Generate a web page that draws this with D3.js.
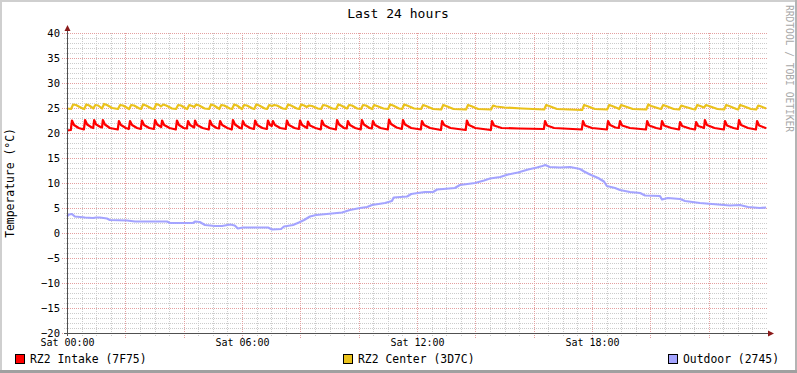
<!DOCTYPE html>
<html><head><meta charset="utf-8">
<script src="https://cdn.jsdelivr.net/npm/d3@7"></script>
<style>html,body{margin:0;padding:0;background:#fff;}svg{display:block;}</style>
</head><body>
<script>
const titleText = "Last 24 hours";
const yTitle = "Temperature (°C)";
const watermark = "RRDTOOL / TOBI OETIKER";
const xLabelHours = [0, 6, 12, 18];
const xLabels = ["Sat 00:00", "Sat 06:00", "Sat 12:00", "Sat 18:00"];
const yLabels = [-20, -15, -10, -5, 0, 5, 10, 15, 20, 25, 30, 35, 40];
const seriesNames = ["RZ2 Intake (7F75)", "RZ2 Center (3D7C)", "Outdoor (2745)"];
const seriesColors = ["#FF0000", "#EAC21C", "#A4A4FF"];

// [hour, °C]
const intake = [
[0,20.5],[0.13,20.6],[0.17,22.5],[0.24,21.6],[0.40,21.0],[0.58,20.7],
[0.62,22.6],[0.69,21.7],[0.85,21.1],[0.90,21.0],
[0.93,22.6],[1.00,21.7],[1.15,21.2],[1.20,21.1],
[1.23,22.6],[1.30,21.7],[1.47,21.0],[1.74,20.7],
[1.78,22.4],[1.85,21.6],[2.02,21.0],[2.12,20.8],
[2.16,22.4],[2.23,21.6],[2.40,21.0],[2.53,20.8],
[2.57,22.5],[2.64,21.6],[2.82,21.0],[2.98,20.8],
[3.02,22.6],[3.09,21.7],[3.20,21.3],[3.23,21.2],
[3.26,22.5],[3.33,21.6],[3.52,21.0],[3.73,20.7],
[3.77,22.5],[3.84,21.6],[4.00,21.0],[4.11,20.9],
[4.15,22.4],[4.22,21.6],[4.33,21.2],[4.36,21.1],
[4.39,22.5],[4.46,21.6],[4.65,21.0],[4.86,20.7],
[4.90,22.5],[4.97,21.6],[5.13,21.0],[5.21,20.9],
[5.25,22.4],[5.32,21.6],[5.50,21.0],[5.65,20.7],
[5.69,22.6],[5.76,21.7],[5.93,21.0],[5.99,20.9],
[6.03,22.4],[6.10,21.6],[6.28,21.0],[6.41,20.8],
[6.45,22.5],[6.52,21.6],[6.70,21.0],[6.85,20.8],
[6.89,22.5],[6.96,21.6],[7.02,21.4],
[7.06,22.4],[7.13,21.6],[7.31,21.0],[7.50,20.8],
[7.54,22.5],[7.61,21.6],[7.80,21.0],[7.95,20.8],
[7.99,22.5],[8.06,21.6],[8.20,21.1],[8.23,21.0],
[8.26,22.3],[8.33,21.5],[8.52,21.0],[8.70,20.7],
[8.74,22.5],[8.81,21.6],[9.00,21.0],[9.22,20.7],
[9.26,22.6],[9.33,21.7],[9.50,21.0],[9.59,20.9],
[9.63,22.4],[9.70,21.6],[9.88,21.0],[10.07,20.7],
[10.11,22.6],[10.18,21.7],[10.36,21.0],[10.45,20.9],
[10.49,22.4],[10.56,21.6],[10.75,21.0],[11.00,20.7],
[11.04,22.7],[11.11,21.8],[11.30,21.1],[11.48,20.8],
[11.52,22.6],[11.59,21.7],[11.80,21.0],[12.13,20.7],
[12.17,22.4],[12.24,21.6],[12.45,21.0],[12.82,20.6],
[12.86,22.4],[12.93,21.6],[13.15,21.0],[13.67,20.6],
[13.71,22.5],[13.78,21.6],[14.00,21.0],[14.53,20.6],
[14.57,22.4],[14.64,21.5],[14.90,21.0],[15.50,20.9],[16.35,20.8],
[16.39,22.4],[16.46,21.5],[16.70,21.0],[17.65,20.7],
[17.69,22.4],[17.76,21.5],[18.00,21.0],[18.51,20.7],
[18.55,22.4],[18.62,21.6],[18.80,21.1],[18.92,21.0],
[18.96,22.4],[19.03,21.5],[19.30,21.0],[19.85,20.7],
[19.89,22.4],[19.96,21.5],[20.20,21.0],[20.36,20.8],
[20.40,22.4],[20.47,21.5],[20.72,21.0],[20.98,20.7],
[21.02,22.2],[21.09,21.4],[21.35,20.9],[21.53,20.7],
[21.57,22.2],[21.64,21.4],[21.80,21.1],[21.84,21.0],
[21.87,22.6],[21.94,21.6],[22.20,21.0],[22.52,20.7],
[22.56,22.4],[22.63,21.5],[22.85,21.0],[23.00,20.8],
[23.04,22.6],[23.11,21.6],[23.35,21.0],[23.62,20.7],
[23.66,22.4],[23.73,21.5],[23.95,21.0],[23.97,20.9]
];

const center = [
[0,24.9],[0.14,24.8],[0.21,25.7],[0.31,25.6],[0.50,25.0],[0.59,24.8],
[0.66,25.7],[0.76,25.5],[0.88,25.0],[0.90,24.9],
[0.97,25.6],[1.07,25.5],[1.18,25.0],[1.20,24.9],
[1.27,25.8],[1.37,25.6],[1.55,25.0],[1.75,24.8],
[1.82,25.6],[1.92,25.5],[2.10,24.9],[2.13,24.8],
[2.20,25.6],[2.30,25.5],[2.48,24.9],[2.54,24.8],
[2.61,25.7],[2.71,25.5],[2.90,24.9],[2.99,24.8],
[3.06,25.8],[3.16,25.6],[3.22,25.3],
[3.30,25.7],[3.40,25.5],[3.60,24.9],[3.74,24.8],
[3.81,25.6],[3.91,25.5],[4.08,24.9],[4.12,24.8],
[4.19,25.6],[4.29,25.4],[4.36,25.2],
[4.43,25.7],[4.53,25.5],[4.72,24.9],[4.87,24.8],
[4.94,25.7],[5.04,25.5],[5.20,24.9],[5.22,24.8],
[5.29,25.6],[5.39,25.5],[5.58,24.9],[5.66,24.8],
[5.73,25.7],[5.83,25.5],[5.97,24.9],[6.00,24.8],
[6.07,25.6],[6.17,25.5],[6.36,24.9],[6.42,24.8],
[6.49,25.7],[6.59,25.5],[6.78,24.9],[6.86,24.8],
[6.93,25.6],[7.03,25.4],
[7.10,25.6],[7.20,25.5],[7.40,24.9],[7.51,24.8],
[7.58,25.7],[7.68,25.5],[7.88,24.9],[7.96,24.8],
[8.03,25.7],[8.13,25.5],[8.22,25.2],
[8.30,25.5],[8.40,25.4],[8.60,24.9],[8.71,24.8],
[8.78,25.6],[8.88,25.5],[9.10,24.9],[9.23,24.8],
[9.30,25.7],[9.40,25.5],[9.56,25.0],[9.60,24.9],
[9.67,25.6],[9.77,25.5],[9.95,24.9],[10.08,24.8],
[10.15,25.6],[10.25,25.5],[10.42,24.9],[10.46,24.8],
[10.53,25.6],[10.63,25.4],[10.85,24.9],[11.01,24.8],
[11.08,25.7],[11.18,25.5],[11.38,24.9],[11.49,24.8],
[11.56,25.7],[11.66,25.5],[11.90,24.9],[12.14,24.8],
[12.21,25.6],[12.31,25.4],[12.55,24.8],[12.83,24.7],
[12.90,25.6],[13.00,25.4],[13.25,24.8],[13.68,24.7],
[13.75,25.6],[13.85,25.4],[14.10,24.8],[14.54,24.7],
[14.61,25.5],[14.71,25.3],[15.00,25.1],[15.60,24.9],[16.36,24.7],
[16.43,25.6],[16.53,25.4],[16.80,24.8],[17.66,24.6],
[17.73,25.6],[17.83,25.4],[18.10,24.8],[18.52,24.7],
[18.59,25.6],[18.69,25.4],[18.90,24.9],[18.93,24.8],
[19.00,25.6],[19.10,25.4],[19.40,24.8],[19.86,24.7],
[19.93,25.7],[20.03,25.4],[20.30,24.9],[20.37,24.8],
[20.44,25.6],[20.54,25.4],[20.80,24.8],[20.99,24.7],
[21.06,25.5],[21.16,25.3],[21.45,24.8],[21.54,24.7],
[21.61,25.6],[21.71,25.4],[21.84,25.1],
[21.91,25.6],[22.01,25.4],[22.30,24.8],[22.53,24.7],
[22.60,25.6],[22.70,25.4],[22.95,24.8],[23.01,24.7],
[23.08,25.6],[23.18,25.4],[23.45,24.8],[23.63,24.7],
[23.70,25.5],[23.80,25.3],[23.97,24.9]
];

const outdoor = [
[0,3.3],[0.07,3.7],[0.17,3.8],[0.27,3.3],[0.62,3.1],[0.89,3.0],[1.0,3.1],[1.13,3.1],[1.37,2.9],[1.47,2.6],
[2.06,2.5],[2.33,2.3],[3.43,2.3],[3.53,2.0],[4.32,2.0],[4.40,2.3],[4.55,2.2],[4.73,1.6],[5.07,1.4],[5.31,1.4],
[5.60,1.7],[5.75,1.5],[5.86,0.9],[6.03,1.1],[6.89,1.1],[7.03,0.7],[7.34,0.8],[7.44,1.3],[7.75,1.6],[7.95,2.1],
[8.13,2.6],[8.33,3.3],[8.54,3.6],[8.91,3.8],[9.43,4.1],[9.70,4.6],[10.05,5.0],[10.29,5.2],[10.46,5.6],[10.90,6.0],
[11.14,6.4],[11.20,7.1],[11.66,7.3],[11.80,7.8],[12.27,8.2],[12.55,8.2],[12.69,8.7],[13.30,9.0],[13.47,9.6],[13.99,10.0],
[14.30,10.5],[14.50,10.9],[14.85,11.2],[15.12,11.7],[15.46,12.1],[15.81,12.7],[16.11,13.1],[16.30,13.4],[16.40,13.6],[16.55,13.2],
[16.90,13.1],[17.25,13.2],[17.59,12.8],[17.73,12.3],[17.93,11.7],[18.21,11.0],[18.41,10.3],[18.51,9.4],[18.79,9.0],[18.96,8.6],
[19.30,8.2],[19.65,8.0],[19.82,7.5],[20.33,7.4],[20.40,6.7],[20.60,7.0],[21.02,6.8],[21.19,6.4],[21.70,6.0],[22.32,5.7],
[22.73,5.5],[23.07,5.6],[23.35,5.2],[23.76,5.0],[23.97,5.1]
];

const W = 797, H = 373;
const mono = "'DejaVu Sans Mono', monospace";
const svg = d3.select("body").append("svg").attr("width", W).attr("height", H);

// background & 3D frame
svg.append("rect").attr("width", W).attr("height", H).attr("fill", "#FFFFFF");
svg.append("rect").attr("x", 0).attr("y", 0).attr("width", W).attr("height", 2).attr("fill", "#CFCFCF");
svg.append("rect").attr("x", 0).attr("y", 0).attr("width", 2).attr("height", H).attr("fill", "#CFCFCF");
svg.append("rect").attr("x", W - 2).attr("y", 0).attr("width", 2).attr("height", H).attr("fill", "#B4B4B4");
svg.append("rect").attr("x", 0).attr("y", H - 3).attr("width", W).attr("height", 3).attr("fill", "#A0A0A0");

const x = d3.scaleLinear().domain([0, 24]).range([67, 767]);
const y = d3.scaleLinear().domain([-20, 40]).range([333, 33]);

const grid = svg.append("g").attr("shape-rendering", "crispEdges");
// minor grid
const minorY = y.ticks(60).filter(v => v % 5 !== 0);
const minorX = x.ticks(48).filter(v => v % 2 !== 0 && v < 24);
grid.selectAll(".my").data(minorY).enter().append("line")
  .attr("x1", 64).attr("x2", 767).attr("y1", d => Math.round(y(d)) + 0.5).attr("y2", d => Math.round(y(d)) + 0.5)
  .attr("stroke", "#CCCCCC").attr("stroke-dasharray", "1,1");
grid.selectAll(".mx").data(minorX).enter().append("line")
  .attr("y1", 33).attr("y2", 336).attr("x1", d => Math.round(x(d)) + 0.5).attr("x2", d => Math.round(x(d)) + 0.5)
  .attr("stroke", "#CCCCCC").attr("stroke-dasharray", "1,1");
// major grid
const majorY = y.ticks(12);
const majorX = x.ticks(12).filter(v => v > 0 && v < 24);
grid.selectAll(".My").data(majorY).enter().append("line")
  .attr("x1", 62).attr("x2", 767).attr("y1", d => Math.round(y(d)) + 0.5).attr("y2", d => Math.round(y(d)) + 0.5)
  .attr("stroke", "#E4A0A0").attr("stroke-dasharray", "1,1");
grid.selectAll(".Mx").data(majorX).enter().append("line")
  .attr("y1", 33).attr("y2", 338).attr("x1", d => Math.round(x(d)) + 0.5).attr("x2", d => Math.round(x(d)) + 0.5)
  .attr("stroke", "#E4A0A0").attr("stroke-dasharray", "1,1");

// axes labels via d3 axes
const yAxis = d3.axisLeft(y).tickValues(yLabels).tickSize(0).tickPadding(7).tickFormat(d3.format("d"));
const gy = svg.append("g").attr("transform", "translate(67,0)").call(yAxis);
gy.select(".domain").remove();
gy.selectAll("text").attr("font-family", mono).attr("font-size", "10.5px").attr("fill", "#000").attr("dy", "0.32em");

const xAxis = d3.axisBottom(x).tickValues(xLabelHours).tickSize(0).tickFormat((d, i) => xLabels[i]);
const gx = svg.append("g").attr("transform", "translate(0,333)").call(xAxis);
gx.select(".domain").remove();
gx.selectAll("text").attr("font-family", mono).attr("font-size", "10px").attr("fill", "#000").attr("y", 12.5).attr("dy", null);

// lines
const line = d3.line().x(d => x(d[0])).y(d => y(d[1]));
[outdoor, center, intake].forEach((s, i) => {
  const c = seriesColors[2 - i];
  svg.append("path").datum(s).attr("d", line).attr("fill", "none")
    .attr("stroke", c).attr("stroke-width", 2.2).attr("stroke-linejoin", "round");
});

// axis lines and arrows
svg.append("line").attr("x1", 67.5).attr("x2", 67.5).attr("y1", 336).attr("y2", 30)
  .attr("stroke", "#505050").attr("stroke-width", 1).attr("shape-rendering", "crispEdges");
svg.append("line").attr("x1", 64).attr("x2", 770).attr("y1", 333.5).attr("y2", 333.5)
  .attr("stroke", "#505050").attr("stroke-width", 1).attr("shape-rendering", "crispEdges");
svg.append("path").attr("d", "M64.5,31 L67.5,25 L70.5,31 Z").attr("fill", "#8B1A1A");
svg.append("path").attr("d", "M768,330.5 L774,333.5 L768,336.5 Z").attr("fill", "#8B1A1A");

// title
svg.append("text").attr("x", 398).attr("y", 18).attr("text-anchor", "middle")
  .attr("font-family", mono).attr("font-size", "13px").attr("fill", "#000").text(titleText);

// y title
svg.append("text").attr("transform", "translate(14,183) rotate(-90)").attr("text-anchor", "middle")
  .attr("font-family", mono).attr("font-size", "11.4px").attr("fill", "#000").text(yTitle);

// watermark
svg.append("text").attr("transform", "translate(786,5) rotate(90)").attr("text-anchor", "start")
  .attr("font-family", mono).attr("font-size", "9.6px").attr("fill", "#A8A8A8").text(watermark);

// legend
const legX = [15, 343, 668];
const leg = svg.append("g");
seriesNames.forEach((n, i) => {
  leg.append("rect").attr("x", legX[i] + 0.5).attr("y", 354.5).attr("width", 9).attr("height", 9)
    .attr("fill", seriesColors[i]).attr("stroke", "#000").attr("stroke-width", 1).attr("shape-rendering", "crispEdges");
  leg.append("text").attr("x", legX[i] + 15).attr("y", 363).attr("font-family", mono)
    .attr("font-size", "11.4px").attr("fill", "#000").text(n);
});
</script>
</body></html>
